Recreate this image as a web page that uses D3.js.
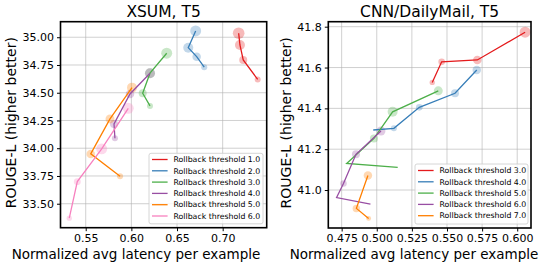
<!DOCTYPE html>
<html><head><meta charset="utf-8">
<script src="https://cdn.jsdelivr.net/npm/d3@7"></script>
<style>
html,body{margin:0;padding:0;background:#fff;}
svg text{font-family:"DejaVu Sans",sans-serif;}
</style></head>
<body><svg id="c" width="540" height="267"></svg>
<script>
// ---------- DATA ----------
const colors = ["#e41a1c","#377eb8","#4daf4a","#984ea3","#ff7f00","#f781bf"];

const xsumThresholds = ["1.0","2.0","3.0","4.0","5.0","6.0"];
const xsumLatency = [
  [0.7175,0.7189,0.7225,0.7383],
  [0.6704,0.6623,0.6715,0.6798],
  [0.6387,0.6204,0.6124,0.6204],
  [0.6204,0.5985,0.5810,0.5820],
  [0.6007,0.5766,0.5555,0.5876],
  [0.5966,0.5675,0.5408,0.5320]
];
const xsumRouge = [
  [35.036,34.930,34.795,34.620],
  [35.057,34.906,34.825,34.730],
  [34.856,34.676,34.495,34.381],
  [34.676,34.489,34.219,34.090],
  [34.546,34.264,33.949,33.748],
  [34.360,33.994,33.699,33.370]
];
const xsumMarker = [
  [34,25,16,9],
  [30,25,18,9],
  [30,25,16,9],
  [25,18,16,9],
  [25,20,18,9],
  [30,30,12,7]
];
const xsumXTicks = [0.55,0.60,0.65,0.70];
const xsumYTicks = [33.50,33.75,34.00,34.25,34.50,34.75,35.00];

const cnnThresholds = ["3.0","4.0","5.0","6.0","7.0"];
const cnnLatency = [
  [0.6056,0.5716,0.5462,0.5395],
  [0.5712,0.5557,0.5303,0.5122,0.4975],
  [0.5438,0.5113,0.4980,0.4786,0.5149],
  [0.5030,0.4852,0.4763,0.4714,0.4955],
  [0.4937,0.4855,0.4942]
];
const cnnRouge = [
  [41.773,41.637,41.628,41.527],
  [41.588,41.474,41.405,41.302,41.294],
  [41.486,41.383,41.253,41.130,41.111],
  [41.289,41.175,41.032,40.963,40.931],
  [41.071,40.910,40.861]
];
const cnnMarker = [
  [30,18,11,7],
  [18,16,11,9,0],
  [20,25,16,0,0],
  [20,16,11,0,0],
  [18,14,6]
];
const cnnXTicks = [0.475,0.500,0.525,0.550,0.575,0.600];
const cnnYTicks = [41.0,41.2,41.4,41.6,41.8];

// ---------- DRAW ----------
const svg = d3.select("#c");

function panel(cfg){
  const {x0,x1,y0,y1,xdom,ydom,title,xticks,yticks,xfmt,yfmt,lat,rouge,marker,labels,cols,legend,ylabX,xlabX} = cfg;
  const x = d3.scaleLinear().domain(xdom).range([x0,x1]);
  const y = d3.scaleLinear().domain(ydom).range([y1,y0]);
  const r = d3.scaleSqrt().domain([0,1]).range([0,1]);
  const g = svg.append("g");
  // grid
  g.append("g").selectAll("line").data(xticks).join("line")
    .attr("x1",d=>x(d)).attr("x2",d=>x(d)).attr("y1",y0).attr("y2",y1)
    .attr("stroke","#b0b0b0").attr("stroke-opacity",0.6).attr("stroke-width",1);
  g.append("g").selectAll("line").data(yticks).join("line")
    .attr("y1",d=>y(d)).attr("y2",d=>y(d)).attr("x1",x0).attr("x2",x1)
    .attr("stroke","#b0b0b0").attr("stroke-opacity",0.6).attr("stroke-width",1);
  const clipId = "clip"+Math.round(x0);
  svg.append("clipPath").attr("id",clipId).append("rect")
    .attr("x",x0).attr("y",y0).attr("width",x1-x0).attr("height",y1-y0);
  const plot = g.append("g").attr("clip-path",`url(#${clipId})`);
  lat.forEach((xs,i)=>{
    const pts = xs.map((v,j)=>({x:v,y:rouge[i][j],s:marker[i][j]}));
    plot.append("g").selectAll("circle").data(pts).join("circle")
      .attr("cx",d=>x(d.x)).attr("cy",d=>y(d.y)).attr("r",d=>r(d.s))
      .attr("fill",cols[i]).attr("fill-opacity",0.3);
  });
  lat.forEach((xs,i)=>{
    const pts = xs.map((v,j)=>[v,rouge[i][j]]);
    plot.append("path").datum(pts)
      .attr("d",d3.line().x(d=>x(d[0])).y(d=>y(d[1])))
      .attr("fill","none").attr("stroke",cols[i]).attr("stroke-width",1.3);
  });
  // axes
  const ax = g.append("g").attr("transform",`translate(0,${y1})`)
    .call(d3.axisBottom(x).tickValues(xticks).tickFormat(d3.format(xfmt)).tickSize(3.5).tickPadding(3));
  const ay = g.append("g").attr("transform",`translate(${x0},0)`)
    .call(d3.axisLeft(y).tickValues(yticks).tickFormat(d3.format(yfmt)).tickSize(3.5).tickPadding(3));
  [ax,ay].forEach(a=>{
    a.select(".domain").remove();
    a.selectAll("text").attr("font-size",11).attr("fill","#000").attr("font-family","DejaVu Sans");
    a.selectAll("line").attr("stroke","#000");
  });
  g.append("rect").attr("x",x0).attr("y",y0).attr("width",x1-x0).attr("height",y1-y0)
    .attr("fill","none").attr("stroke","#000").attr("stroke-width",1.6);
  g.append("text").attr("x",(x0+x1)/2).attr("y",17.3).attr("text-anchor","middle")
    .attr("font-size",15.5).text(title);
  g.append("text").attr("x",xlabX).attr("y",258.5).attr("text-anchor","middle")
    .attr("font-size",13.5).text("Normalized avg latency per example");
  g.append("text").attr("transform",`translate(${ylabX},${(y0+y1)/2 - 2}) rotate(-90)`)
    .attr("text-anchor","middle").attr("dy","0.35em").attr("font-size",14).text("ROUGE-L (higher better)");
  // legend
  const L = legend;
  const lg = g.append("g");
  lg.append("rect").attr("x",L.x).attr("y",L.y).attr("width",L.w).attr("height",L.h).attr("rx",2)
    .attr("fill","#fff").attr("fill-opacity",0.8).attr("stroke","#cccccc").attr("stroke-width",0.8);
  labels.forEach((t,i)=>{
    const yy = L.y + L.first + i*L.step;
    lg.append("line").attr("x1",L.x+3).attr("x2",L.x+18.6).attr("y1",yy).attr("y2",yy)
      .attr("stroke",cols[i]).attr("stroke-width",1.3);
    lg.append("text").attr("x",L.x+24.5).attr("y",yy).attr("dy","0.35em")
      .attr("font-size",7.8).text("Rollback threshold "+t);
  });
}

panel({x0:60.5,x1:266.7,y0:21.7,y1:227.7,xdom:[0.5224,0.7482],ydom:[33.284,35.14],
  title:"XSUM, T5",xticks:xsumXTicks,yticks:xsumYTicks,xfmt:".2f",yfmt:".2f",
  lat:xsumLatency,rouge:xsumRouge,marker:xsumMarker,labels:xsumThresholds,cols:colors,
  legend:{x:149,y:153.3,w:114,h:70.5,first:6.2,step:11.3},ylabX:11,xlabX:136});

panel({x0:328.3,x1:531,y0:21.7,y1:228,xdom:[0.4655,0.6098],ydom:[40.814,41.8245],
  title:"CNN/DailyMail, T5",xticks:cnnXTicks,yticks:cnnYTicks,xfmt:".3f",yfmt:".1f",
  lat:cnnLatency,rouge:cnnRouge,marker:cnnMarker,labels:cnnThresholds,cols:colors,
  legend:{x:415,y:164,w:113,h:60,first:6.5,step:11.3},ylabX:286,xlabX:414});
</script></body></html>
